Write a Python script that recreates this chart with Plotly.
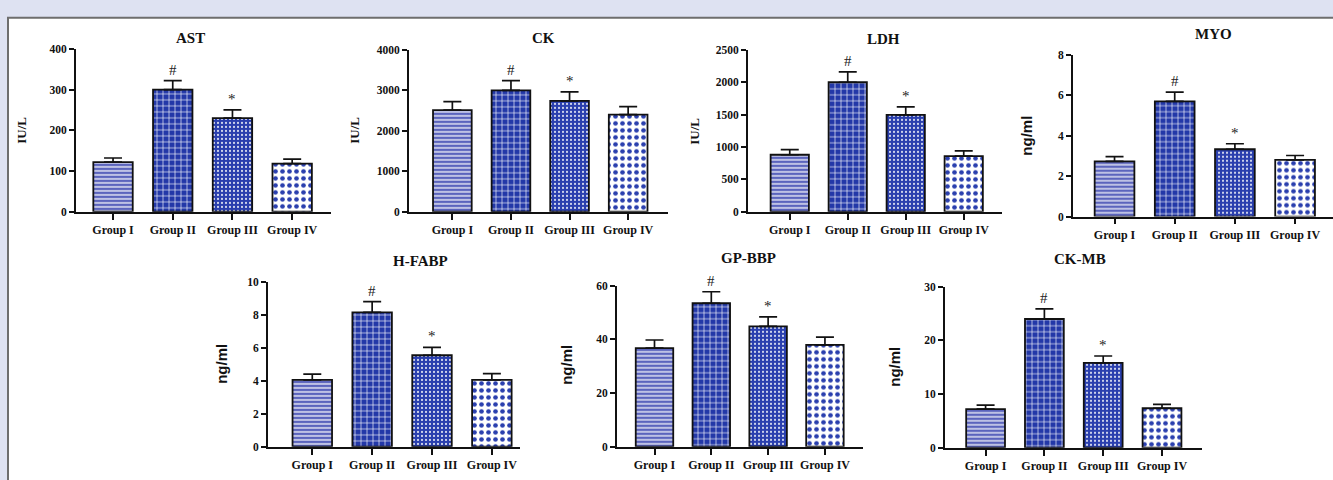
import plotly.graph_objects as go

W, H = 1333, 480

# ---------------- data ----------------
groups = ["Group I", "Group II", "Group III", "Group IV"]

ast_mean = [122, 300, 230, 118]
ast_err = [10, 22, 20, 11]
ck_mean = [2510, 3000, 2740, 2400]
ck_err = [210, 240, 220, 200]
ldh_mean = [880, 2000, 1495, 860]
ldh_err = [80, 160, 125, 80]
myo_mean = [2.73, 5.70, 3.33, 2.80]
myo_err = [0.23, 0.45, 0.27, 0.22]
hfabp_mean = [4.05, 8.15, 5.55, 4.05]
hfabp_err = [0.35, 0.65, 0.48, 0.38]
gpbbp_mean = [36.8, 53.5, 44.9, 38.0]
gpbbp_err = [3.0, 4.3, 3.5, 2.9]
ckmb_mean = [7.2, 24.0, 15.8, 7.35]
ckmb_err = [0.75, 1.9, 1.3, 0.73]

titles = ["AST", "CK", "LDH", "MYO", "H-FABP", "GP-BBP", "CK-MB"]
units = ["IU/L", "IU/L", "IU/L", "ng/ml", "ng/ml", "ng/ml", "ng/ml"]
y_max = [400, 4000, 2500, 8, 10, 60, 30]
y_step = [100, 1000, 500, 2, 2, 20, 10]
sig_marks = ["", "#", "*", ""]

means = [ast_mean, ck_mean, ldh_mean, myo_mean, hfabp_mean, gpbbp_mean, ckmb_mean]
errs = [ast_err, ck_err, ldh_err, myo_err, hfabp_err, gpbbp_err, ckmb_err]

# ---------------- layout geometry (pixels) ----------------
# (axis x start, axis x end, y of top tick, y of zero, x range lo, x range hi)
boxes = [
    (76, 331, 44, 211, -0.62, 3.65),
    (409, 668, 45, 211, -0.74, 3.68),
    (748, 1002, 45, 211, -0.72, 3.66),
    (1073, 1333, 50, 216, -0.69, 3.63),
    (268, 520, 283, 452, -0.74, 3.47),
    (617, 863, 287, 452, -0.66, 3.67),
    (945, 1202, 288, 453, -0.69, 3.68),
]
title_pos = [(190, 33), (543, 33), (884, 34), (1213, 29), (420, 262), (748, 258), (1080, 259)]
ylab_pos = [(22, 128), (355, 128), (695, 128), (1027, 133), (222, 367), (567, 368), (895, 370)]

SERIF = "Liberation Serif"
SANS = "Liberation Sans"
INK = "#111111"

pat_shape = ["-", "+", ".", "."]
pat_bg = ["#5b64bd", "#2338a8", "#2a3fae", "#ffffff"]
pat_fg = ["#ffffff", "#ffffff", "#ffffff", "#2a3fae"]
pat_size = [4, 6, 4, 7]
pat_sol = [0.3, 0.2, 0.2, 0.35]


def px(x):
    return x / W


def py(y):
    return 1 - y / H


def fmt(v):
    return str(int(v)) if float(v).is_integer() else str(v)


fig = go.Figure()
annotations = []
layout = {}

for k in range(7):
    n = "" if k == 0 else str(k + 1)
    x0, x1, yt, yz, r0, r1 = boxes[k]
    for i, g in enumerate(groups):
        fig.add_trace(go.Bar(
            x=[i], y=[means[k][i]],
            xaxis="x" + n, yaxis="y" + n,
            width=0.66, name=g,
            marker=dict(
                color=pat_bg[i],
                line=dict(color=INK, width=1.8),
                pattern=dict(shape=pat_shape[i], fgcolor=pat_fg[i], fgopacity=1,
                             size=pat_size[i], solidity=pat_sol[i], fillmode="overlay"),
            ),
            error_y=dict(type="data", array=[errs[k][i]], arrayminus=[0], symmetric=False,
                         color=INK, thickness=1.7, width=9),
            showlegend=False, hoverinfo="skip",
        ))
    tv = []
    v = 0
    while v <= y_max[k] + 1e-9:
        tv.append(v)
        v += y_step[k]
    layout["xaxis" + n] = dict(
        domain=[px(x0), px(x1)], anchor="y" + n,
        range=[r0, r1], showline=True, linecolor=INK, linewidth=1.7,
        tickvals=list(range(len(groups))), ticktext=["<b>%s</b>" % g for g in groups],
        ticks="outside", ticklen=6, tickwidth=1.6, tickcolor=INK,
        tickfont=dict(family=SERIF, size=12, color=INK),
        showgrid=False, zeroline=False, fixedrange=True,
    )
    layout["yaxis" + n] = dict(
        domain=[py(yz), py(yt)], anchor="x" + n,
        range=[0, y_max[k]], tickvals=tv, ticktext=["<b>%s</b>" % fmt(t) for t in tv],
        showline=True, linecolor=INK, linewidth=1.7,
        ticks="outside", ticklen=5, tickwidth=1.6, tickcolor=INK,
        tickfont=dict(family=SERIF, size=11.5, color=INK),
        showgrid=False, zeroline=False, fixedrange=True,
    )
    tx, ty = title_pos[k]
    annotations.append(dict(
        x=px(tx), y=py(ty), xref="paper", yref="paper", text="<b>%s</b>" % titles[k],
        showarrow=False, xanchor="center", yanchor="middle",
        font=dict(family=SERIF, size=15, color=INK),
    ))
    lx, ly = ylab_pos[k]
    is_ng = units[k] == "ng/ml"
    annotations.append(dict(
        x=px(lx), y=py(ly), xref="paper", yref="paper", text="<b>%s</b>" % units[k],
        showarrow=False, xanchor="center", yanchor="middle", textangle=-90,
        font=dict(family=SANS if is_ng else SERIF, size=15 if is_ng else 13, color=INK),
    ))
    for i, m in enumerate(sig_marks):
        if m:
            annotations.append(dict(
                x=i, y=means[k][i] + errs[k][i], xref="x" + n, yref="y" + n,
                text=m, showarrow=False, xanchor="center", yanchor="bottom", yshift=1,
                font=dict(family=SERIF, size=15, color="#222222"),
            ))

shapes = [dict(
    type="rect", xref="paper", yref="paper", layer="below",
    x0=px(8), x1=1.05, y0=-0.05, y1=py(12),
    fillcolor="#ffffff", line=dict(color="#6e6e6e", width=2),
)]

fig.update_layout(
    width=W, height=H, autosize=False,
    margin=dict(l=0, r=0, t=0, b=0, pad=0),
    paper_bgcolor="#dee2f2", plot_bgcolor="rgba(0,0,0,0)",
    showlegend=False, barmode="overlay",
    annotations=annotations, shapes=shapes,
    **layout,
)

fig.write_html("out.html", config={"displayModeBar": False})
